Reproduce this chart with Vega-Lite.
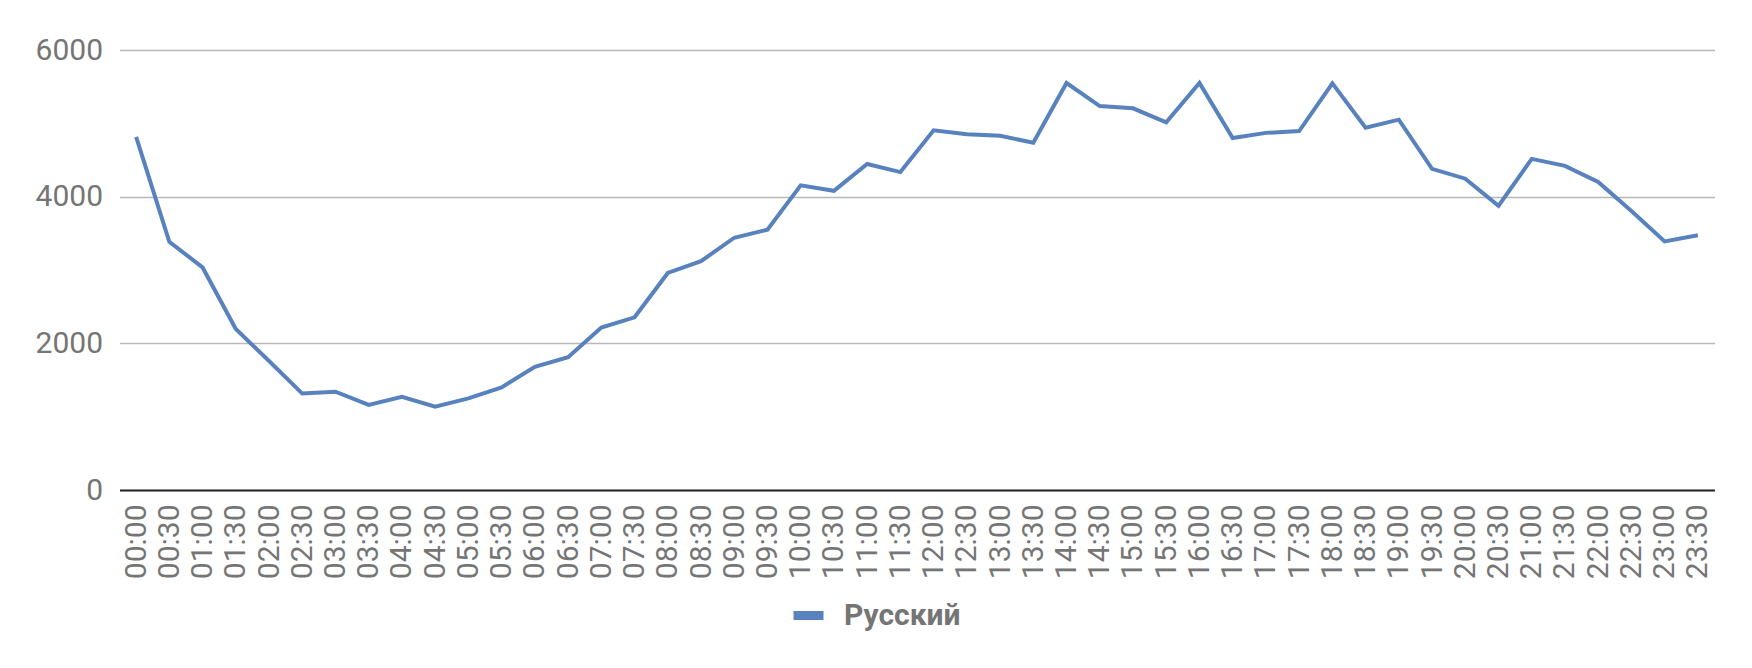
{
  "$schema": "https://vega.github.io/schema/vega-lite/v6.json",
  "width": 1595,
  "height": 440,
  "autosize": {"type": "none"},
  "padding": {"left": 119.5, "top": 50, "right": 37.5, "bottom": 178},
  "background": "#ffffff",
  "config": {"view": {"stroke": null}, "font": "Roboto"},
  "data": {
    "values": [
      {"time": "00:00", "value": 4815, "lang": "Русский"},
      {"time": "00:30", "value": 3385, "lang": "Русский"},
      {"time": "01:00", "value": 3035, "lang": "Русский"},
      {"time": "01:30", "value": 2195, "lang": "Русский"},
      {"time": "02:00", "value": 1760, "lang": "Русский"},
      {"time": "02:30", "value": 1315, "lang": "Русский"},
      {"time": "03:00", "value": 1340, "lang": "Русский"},
      {"time": "03:30", "value": 1160, "lang": "Русский"},
      {"time": "04:00", "value": 1270, "lang": "Русский"},
      {"time": "04:30", "value": 1135, "lang": "Русский"},
      {"time": "05:00", "value": 1250, "lang": "Русский"},
      {"time": "05:30", "value": 1400, "lang": "Русский"},
      {"time": "06:00", "value": 1680, "lang": "Русский"},
      {"time": "06:30", "value": 1810, "lang": "Русский"},
      {"time": "07:00", "value": 2215, "lang": "Русский"},
      {"time": "07:30", "value": 2355, "lang": "Русский"},
      {"time": "08:00", "value": 2960, "lang": "Русский"},
      {"time": "08:30", "value": 3120, "lang": "Русский"},
      {"time": "09:00", "value": 3440, "lang": "Русский"},
      {"time": "09:30", "value": 3550, "lang": "Русский"},
      {"time": "10:00", "value": 4155, "lang": "Русский"},
      {"time": "10:30", "value": 4080, "lang": "Русский"},
      {"time": "11:00", "value": 4445, "lang": "Русский"},
      {"time": "11:30", "value": 4335, "lang": "Русский"},
      {"time": "12:00", "value": 4905, "lang": "Русский"},
      {"time": "12:30", "value": 4850, "lang": "Русский"},
      {"time": "13:00", "value": 4830, "lang": "Русский"},
      {"time": "13:30", "value": 4735, "lang": "Русский"},
      {"time": "14:00", "value": 5550, "lang": "Русский"},
      {"time": "14:30", "value": 5235, "lang": "Русский"},
      {"time": "15:00", "value": 5205, "lang": "Русский"},
      {"time": "15:30", "value": 5015, "lang": "Русский"},
      {"time": "16:00", "value": 5550, "lang": "Русский"},
      {"time": "16:30", "value": 4800, "lang": "Русский"},
      {"time": "17:00", "value": 4870, "lang": "Русский"},
      {"time": "17:30", "value": 4895, "lang": "Русский"},
      {"time": "18:00", "value": 5545, "lang": "Русский"},
      {"time": "18:30", "value": 4940, "lang": "Русский"},
      {"time": "19:00", "value": 5050, "lang": "Русский"},
      {"time": "19:30", "value": 4380, "lang": "Русский"},
      {"time": "20:00", "value": 4245, "lang": "Русский"},
      {"time": "20:30", "value": 3875, "lang": "Русский"},
      {"time": "21:00", "value": 4515, "lang": "Русский"},
      {"time": "21:30", "value": 4420, "lang": "Русский"},
      {"time": "22:00", "value": 4200, "lang": "Русский"},
      {"time": "22:30", "value": 3805, "lang": "Русский"},
      {"time": "23:00", "value": 3390, "lang": "Русский"},
      {"time": "23:30", "value": 3475, "lang": "Русский"}
    ]
  },
  "mark": {"type": "line", "strokeWidth": 4},
  "encoding": {
    "x": {
      "field": "time",
      "type": "ordinal",
      "sort": null,
      "scale": {"type": "point", "padding": 0.5},
      "axis": {
        "title": null,
        "labelAngle": -90,
        "labelAlign": "right",
        "labelBaseline": "middle",
        "labelFontSize": 30,
        "labelColor": "#757575",
        "labelPadding": 14,
        "ticks": false,
        "domainColor": "#262626",
        "domainWidth": 2
      }
    },
    "y": {
      "field": "value",
      "type": "quantitative",
      "scale": {"domain": [0, 6000], "nice": false},
      "axis": {
        "title": null,
        "values": [0, 2000, 4000, 6000],
        "format": "d",
        "domain": false,
        "ticks": false,
        "labelFontSize": 30,
        "labelColor": "#757575",
        "labelPadding": 17,
        "gridColor": "#b8b8b8",
        "gridWidth": 1.5
      }
    },
    "color": {
      "field": "lang",
      "type": "nominal",
      "scale": {"range": ["#5882BE"]},
      "legend": {
        "title": null,
        "orient": "none",
        "legendX": 669.5,
        "legendY": 546,
        "padding": 0,
        "symbolType": "stroke",
        "symbolSize": 900,
        "symbolStrokeWidth": 9,
        "labelFontSize": 30,
        "labelFontWeight": "bold",
        "labelColor": "#757575",
        "labelOffset": 16
      }
    }
  }
}
